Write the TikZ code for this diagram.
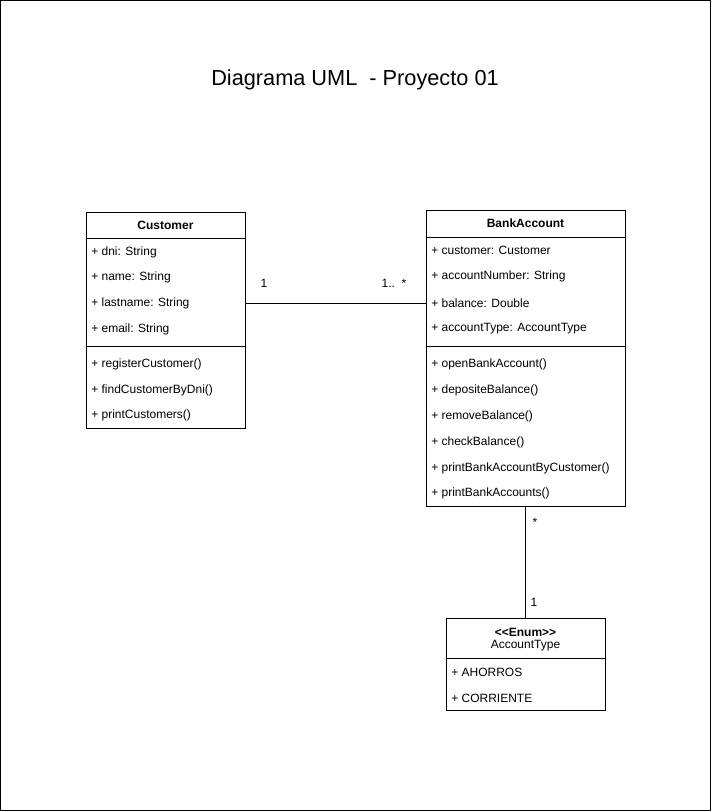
\documentclass[tikz,border=0pt]{standalone}
\usepackage{fontspec}
\setmainfont{Liberation Sans}
\usetikzlibrary{positioning}
\tikzset{
  umlbox/.style={draw, anchor=north west, inner sep=0pt, outer sep=0pt},
  member/.style={anchor=west, inner sep=0pt, font=\fontsize{9}{11}\selectfont},
  headtext/.style={inner sep=0pt, font=\fontsize{9}{11}\selectfont\bfseries},
  mult/.style={inner sep=0pt, font=\fontsize{9}{11}\selectfont},
}

\begin{document}
\begin{tikzpicture}[x=0.75pt,y=-0.75pt]
\useasboundingbox (0,0) rectangle (711,811);
\draw (0.5,0.5) rectangle (710.5,810.5);
\node[font=\fontsize{16.3}{19}\selectfont] (title) at (355,80) {Diagrama UML\ \ - Proyecto 01};

% the three classes
\node[umlbox, minimum width=119.25pt, minimum height=162pt] (cust) at (86,212) {};
\node[umlbox, minimum width=149.25pt, minimum height=222pt] (bank) at (426,210) {};
\node[umlbox, minimum width=119.25pt, minimum height=69pt] (enum) at (446,618) {};

\node[headtext] (custname) at (165.5,225) {Customer};
\node[headtext] (bankname) at (525.5,223) {BankAccount};
\node[headtext] (enumtag) at (525.5,632) {<\kern0pt<Enum>\kern0pt>};
\node[mult] (enumname) at (525.5,646) {AccountType};

\coordinate (c1) at (0,238);
\coordinate (c2) at (0,346);
\coordinate (b1) at (0,237);
\coordinate (b2) at (0,346);
\coordinate (e1) at (0,658);
\draw (cust.west |- c1) -- (cust.east |- c1);
\draw (cust.west |- c2) -- (cust.east |- c2);
\draw (bank.west |- b1) -- (bank.east |- b1);
\draw (bank.west |- b2) -- (bank.east |- b2);
\draw (enum.west |- e1) -- (enum.east |- e1);

\foreach \y/\t in {252/+ dni: String, 277/+ name: String, 303/+ lastname: String, 329/+ email: String,
  364/+ registerCustomer(), 390/+ findCustomerByDni(), 415/+ printCustomers()}
  \node[member] (cm\y) at (91,\y) {\t};
\foreach \y/\t in {250/+ customer: Customer, 276/+ accountNumber: String, 303/+ balance: Double,
  329/+ accountType: AccountType, 364/+ openBankAccount(), 390/+ depositeBalance(),
  416/+ removeBalance(), 442/+ checkBalance(), 468/+ printBankAccountByCustomer(), 493/+ printBankAccounts()}
  \node[member] (bm\y) at (431,\y) {\t};
\foreach \y/\t in {672/+ AHORROS, 698/+ CORRIENTE}
  \node[member] (em\y) at (451,\y) {\t};

% associations
\coordinate (aline) at (0,303);
\draw (cust.east |- aline) -- (bank.west |- aline);
\draw (bank.south) -- (enum.north);
\node[mult] (m1) at (264,283) {1};
\node[mult] (m2) at (394,283) {1..\ \ *};
\node[mult] (m3) at (535,522) {*};
\node[mult] (m4) at (534,602) {1};
\end{tikzpicture}
\end{document}
